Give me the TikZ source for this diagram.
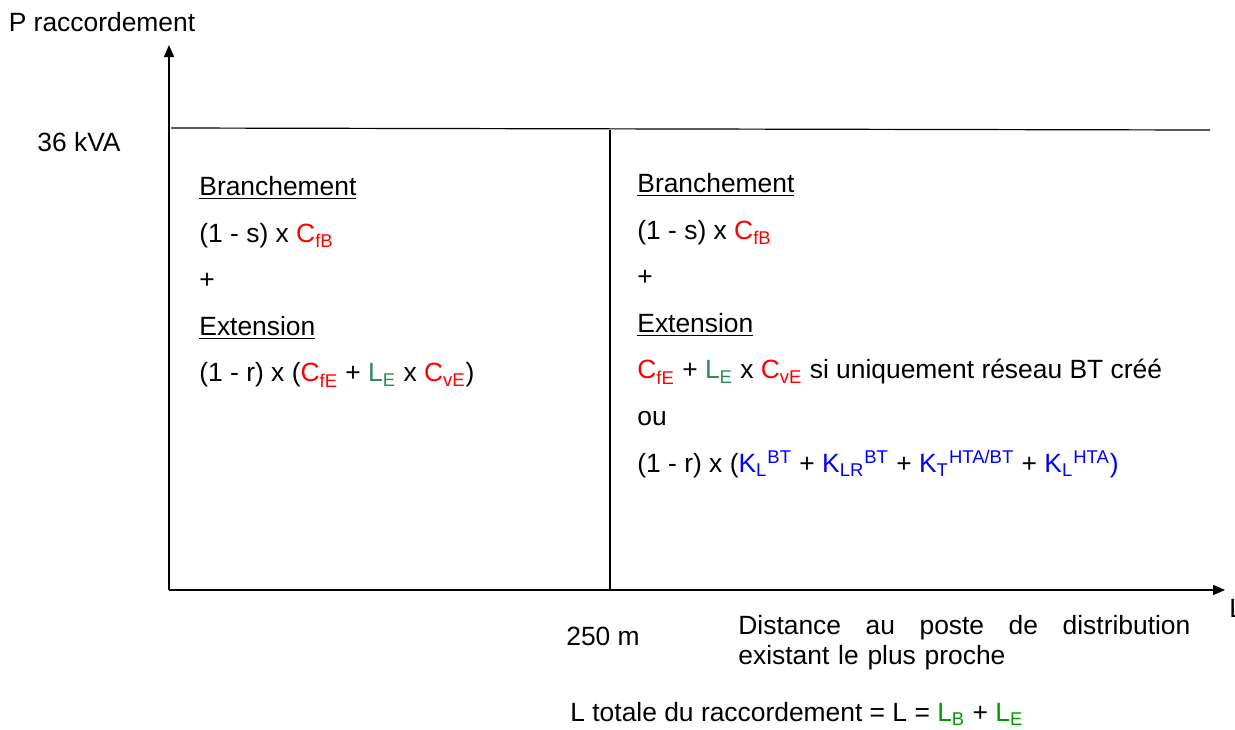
\documentclass[tikz,border=0pt]{standalone}
\usepackage{fontspec}
\setmainfont{Liberation Sans}
\usetikzlibrary{arrows.meta}
\definecolor{costred}{RGB}{255,0,0}
\definecolor{lengreen}{RGB}{46,139,87}
\definecolor{lenbright}{RGB}{0,153,0}
\definecolor{kblue}{RGB}{0,0,255}
\newcommand{\cost}[1]{\textcolor{costred}{C\textsubscript{#1}}}
\newcommand{\lenE}{\textcolor{lengreen}{L\textsubscript{E}}}
\newcommand{\kterm}[2]{\textcolor{kblue}{K\textsubscript{#1}\textsuperscript{#2}}}
\tikzset{
  axis/.style={-{Triangle[length=6pt,width=5pt]}, line width=0.8pt},
  frame/.style={line width=0.6pt},
  label/.style={font=\fontsize{13.2}{15}\selectfont, inner sep=0pt},
  formula/.style={font=\fontsize{13.2}{23.3}\selectfont, align=left, anchor=north west, inner sep=0pt}
}

\begin{document}
\begin{tikzpicture}[x=0.5pt, y=-0.5pt]
  \useasboundingbox (0,0) rectangle (1235,729);
  % axes
  \coordinate (origin) at (169,590);
  \coordinate (ytop) at (169,45);
  \coordinate (xend) at (1225,590);
  \draw[axis] (origin) -- (ytop);
  \draw[axis] (origin) -- (xend);
  % 36 kVA limit and 250 m split
  \coordinate (capL) at (171,128);
  \coordinate (capR) at (1210,130);
  \coordinate (split) at (610,130);
  \coordinate (splitbot) at (610,590);
  \draw[frame] (capL) -- (capR);
  \draw[frame] (split) -- (splitbot);
  % axis labels
  \node[label] (pname) at (102,22) {P raccordement};
  \node[label] (kva) at (79,142) {36 kVA};
  \node[label] (dist250) at (603,636) {250 m};
  \node[label, anchor=west] (lname) at (1229,608) {L};
  \node[label, anchor=north west, text width=226pt, align=left] (distance) at (738,615)
    {Distance\hfill au\hfill poste\hfill de\hfill distribution\\existant le plus proche};
  \node[label, anchor=west] (ltotal) at (570,714)
    {L totale du raccordement = L = \textcolor{lenbright}{L\textsubscript{B}} + \textcolor{lenbright}{L\textsubscript{E}}};
  % formulas
  \node[formula] (leftcase) at (199,176) {%
    \underline{Branchement}\\
    (1 - s) x \cost{fB}\\
    +\\
    \underline{Extension}\\
    (1 - r) x (\cost{fE} + \lenE{} x \cost{vE})};
  \node[formula] (rightcase) at (637,173) {%
    \underline{Branchement}\\
    (1 - s) x \cost{fB}\\
    +\\
    \underline{Extension}\\
    \cost{fE} + \lenE{} x \cost{vE} si uniquement réseau BT créé\\
    ou\\
    (1 - r) x (\kterm{L}{BT} + \kterm{LR}{BT} + \kterm{T}{HTA/BT} + \textcolor{kblue}{K\textsubscript{L}\textsuperscript{HTA})}};
\end{tikzpicture}
\end{document}
